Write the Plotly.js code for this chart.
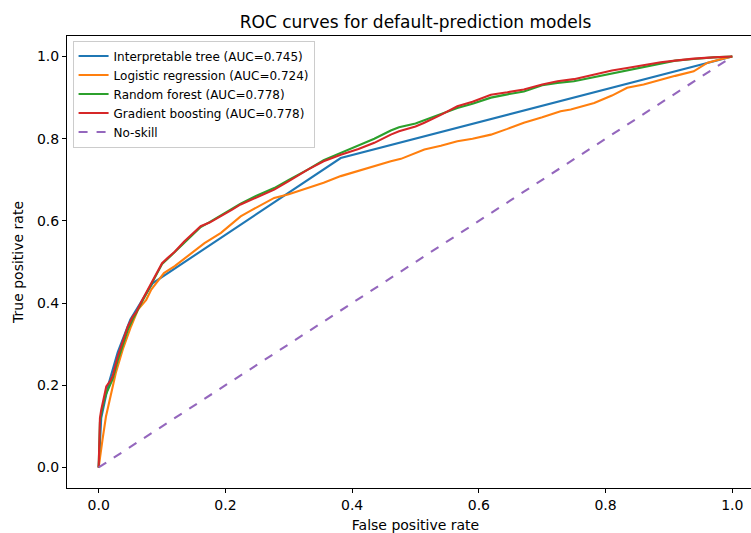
<!DOCTYPE html>
<html>
<head>
<meta charset="utf-8">
<script src="https://cdn.plot.ly/plotly-3.0.1.min.js"></script>
<style>
html,body{margin:0;padding:0;overflow:hidden;background:#fff;}
#chart{width:766px;height:533px;}
</style>
</head>
<body>
<div id="chart"></div>
<script>
// Interpretable tree
const treeFpr = [0, 0.004, 0.015, 0.03, 0.05, 0.085, 0.382, 1.0];
const treeTpr = [0, 0.12, 0.2, 0.28, 0.36, 0.448, 0.753, 1.0];

// Logistic regression
const logFpr = [0, 0.003, 0.006, 0.0115, 0.019, 0.027, 0.038, 0.051, 0.062, 0.075, 0.083, 0.103, 0.12, 0.14, 0.167, 0.193, 0.224, 0.24, 0.277, 0.3, 0.33, 0.355, 0.382, 0.41, 0.435, 0.461, 0.477, 0.514, 0.54, 0.566, 0.59, 0.619, 0.645, 0.671, 0.7, 0.729, 0.745, 0.782, 0.81, 0.834, 0.86, 0.887, 0.91, 0.939, 0.961, 0.98, 1.0];
const logTpr = [0, 0.04, 0.067, 0.124, 0.173, 0.23, 0.287, 0.343, 0.384, 0.408, 0.433, 0.473, 0.49, 0.514, 0.546, 0.571, 0.611, 0.625, 0.656, 0.665, 0.68, 0.693, 0.709, 0.722, 0.733, 0.745, 0.751, 0.774, 0.783, 0.794, 0.8, 0.81, 0.824, 0.839, 0.852, 0.867, 0.871, 0.887, 0.905, 0.924, 0.932, 0.944, 0.953, 0.964, 0.985, 0.993, 1.0];

// Random forest
const rfFpr = [0, 0.002, 0.004, 0.008, 0.012, 0.018, 0.022, 0.03, 0.038, 0.046, 0.054, 0.059, 0.069, 0.085, 0.1, 0.109, 0.12, 0.135, 0.15, 0.161, 0.175, 0.193, 0.21, 0.224, 0.25, 0.277, 0.3, 0.33, 0.355, 0.382, 0.41, 0.435, 0.461, 0.474, 0.5, 0.514, 0.54, 0.566, 0.59, 0.619, 0.645, 0.671, 0.7, 0.724, 0.75, 0.782, 0.81, 0.834, 0.86, 0.887, 0.91, 0.939, 0.97, 1.0];
const rfTpr = [0, 0.11, 0.13, 0.16, 0.18, 0.2, 0.215, 0.26, 0.3, 0.335, 0.362, 0.375, 0.405, 0.45, 0.495, 0.508, 0.524, 0.548, 0.57, 0.585, 0.597, 0.613, 0.63, 0.642, 0.662, 0.68, 0.7, 0.725, 0.748, 0.766, 0.785, 0.8, 0.82, 0.828, 0.837, 0.845, 0.86, 0.875, 0.885, 0.9, 0.908, 0.915, 0.93, 0.936, 0.94, 0.95, 0.96, 0.966, 0.975, 0.984, 0.99, 0.994, 0.998, 1.0];

// Gradient boosting
const gbFpr = [0, 0.002, 0.004, 0.008, 0.012, 0.018, 0.022, 0.03, 0.038, 0.046, 0.054, 0.059, 0.069, 0.085, 0.1, 0.109, 0.12, 0.135, 0.15, 0.161, 0.175, 0.193, 0.21, 0.224, 0.25, 0.277, 0.3, 0.33, 0.355, 0.382, 0.41, 0.435, 0.461, 0.474, 0.5, 0.514, 0.54, 0.566, 0.59, 0.619, 0.645, 0.671, 0.7, 0.724, 0.75, 0.782, 0.81, 0.834, 0.86, 0.887, 0.91, 0.939, 0.97, 1.0];
const gbTpr = [0, 0.12, 0.14, 0.17, 0.197, 0.21, 0.222, 0.27, 0.305, 0.343, 0.368, 0.377, 0.408, 0.453, 0.497, 0.51, 0.525, 0.55, 0.572, 0.587, 0.596, 0.611, 0.627, 0.64, 0.657, 0.676, 0.697, 0.725, 0.745, 0.761, 0.775, 0.79, 0.81, 0.818, 0.83, 0.839, 0.858, 0.879, 0.89, 0.907, 0.913, 0.92, 0.932, 0.94, 0.945, 0.956, 0.966, 0.972, 0.979, 0.986, 0.99, 0.995, 0.998, 1.0];

// No-skill diagonal
const diagFpr = [0, 1];
const diagTpr = [0, 1];

const names = ["Interpretable tree (AUC=0.745)", "Logistic regression (AUC=0.724)", "Random forest (AUC=0.778)", "Gradient boosting (AUC=0.778)", "No-skill"];
const colors = ["#1f77b4", "#ff7f0e", "#2ca02c", "#d62728", "#9467bd"];

const xs = [treeFpr, logFpr, rfFpr, gbFpr, diagFpr];
const ys = [treeTpr, logTpr, rfTpr, gbTpr, diagTpr];

const traces = xs.map((x, i) => ({
  x: x, y: ys[i], type: "scatter", mode: "lines", name: names[i],
  line: {color: colors[i], width: 2.1, dash: i === 4 ? "dash" : "solid"}
}));

const tickFont = {family: "DejaVu Sans", size: 14, color: "#000"};
const vals = [0, 0.2, 0.4, 0.6, 0.8, 1.0];
const txt = vals.map(v => v.toFixed(1));

const layout = {
  width: 766, height: 533,
  margin: {l: 67, r: 2, t: 36, b: 45},
  paper_bgcolor: "#fff", plot_bgcolor: "#fff",
  font: {family: "DejaVu Sans", color: "#000"},
  title: {text: "ROC curves for default-prediction models", font: {family: "DejaVu Sans", size: 17, color: "#000"}, x: 0.5, xanchor: "center", y: 0.958, yanchor: "middle", xref: "paper"},
  xaxis: {
    range: [-0.05, 1.05], tickvals: vals, ticktext: txt, tickfont: tickFont,
    showline: true, mirror: true, linecolor: "#000", linewidth: 1,
    ticks: "outside", ticklen: 4, tickcolor: "#000", showgrid: false, zeroline: false,
    title: {text: "False positive rate", font: {family: "DejaVu Sans", size: 14, color: "#000"}, standoff: 10}
  },
  yaxis: {
    range: [-0.05, 1.05], tickvals: vals, ticktext: txt, tickfont: tickFont,
    showline: true, mirror: true, linecolor: "#000", linewidth: 1,
    ticks: "outside", ticklen: 4, tickcolor: "#000", showgrid: false, zeroline: false,
    title: {text: "True positive rate", font: {family: "DejaVu Sans", size: 14, color: "#000"}, standoff: 10}
  },
  showlegend: true,
  legend: {
    x: 0.008, y: 0.99, xanchor: "left", yanchor: "top",
    bgcolor: "rgba(255,255,255,0.8)", bordercolor: "#cccccc", borderwidth: 1,
    font: {family: "DejaVu Sans", size: 12, color: "#000"},
    tracegroupgap: 0
  }
};

Plotly.newPlot("chart", traces, layout, {displayModeBar: false, staticPlot: true});
</script>
</body>
</html>
